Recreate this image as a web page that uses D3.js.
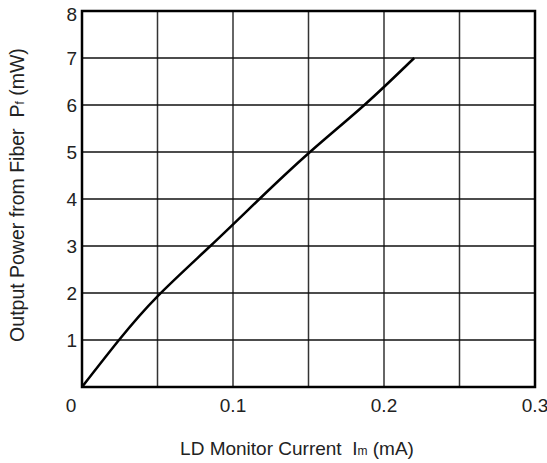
<!DOCTYPE html>
<html>
<head>
<meta charset="utf-8">
<script src="https://cdn.jsdelivr.net/npm/d3@7"></script>
<style>
  body { margin: 0; background: #fff; }
  text { font-family: "Liberation Sans", Arial, sans-serif; fill: #222; }
</style>
</head>
<body>
<svg class="svg"></svg>
<script>
// curve: LD monitor current (mA) vs output power (mW)
const currentMA = [0, 0.0245, 0.05, 0.085, 0.1175, 0.151, 0.187, 0.22];
const powerMW = [0, 1, 1.93, 3, 4, 5, 6, 7];

const xGrid = [0, 0.05, 0.1, 0.15, 0.2, 0.25, 0.3];
const xTickLabels = [0, 0.1, 0.2, 0.3];
const yTicks = [0, 1, 2, 3, 4, 5, 6, 7, 8];

const width = 547;
const height = 463;
const margin = { top: 11, right: 12, bottom: 76, left: 82 };

const svg = d3.select('.svg')
  .attr('width', width)
  .attr('height', height);

const x = d3.scaleLinear()
  .domain([0, 0.3])
  .range([margin.left, width - margin.right]);

const y = d3.scaleLinear()
  .domain([0, 8])
  .range([height - margin.bottom, margin.top]);

const g = svg.append('g');

// grid
g.append('g')
  .selectAll('line')
  .data(xGrid.slice(1, -1))
  .join('line')
  .attr('x1', d => x(d))
  .attr('x2', d => x(d))
  .attr('y1', y(0))
  .attr('y2', y(8))
  .attr('stroke', '#333')
  .attr('stroke-width', 1.5);

g.append('g')
  .selectAll('line')
  .data(yTicks.slice(1, -1))
  .join('line')
  .attr('x1', x(0))
  .attr('x2', x(0.3))
  .attr('y1', d => y(d))
  .attr('y2', d => y(d))
  .attr('stroke', '#111')
  .attr('stroke-width', 1.5);

// frame
g.append('rect')
  .attr('x', x(0))
  .attr('y', y(8))
  .attr('width', x(0.3) - x(0))
  .attr('height', y(0) - y(8))
  .attr('fill', 'none')
  .attr('stroke', '#000')
  .attr('stroke-width', 2.5);

// curve
const line = d3.line()
  .x((d, i) => x(currentMA[i]))
  .y(d => y(d))
  .curve(d3.curveNatural);

g.append('path')
  .attr('d', line(powerMW))
  .attr('fill', 'none')
  .attr('stroke', '#000')
  .attr('stroke-width', 2.5);

// y tick labels
g.append('g')
  .selectAll('text')
  .data(yTicks.slice(1))
  .join('text')
  .attr('x', x(0) - 5)
  .attr('y', d => d === 8 ? y(d) + 3 : y(d))
  .attr('dy', '0.35em')
  .attr('text-anchor', 'end')
  .attr('font-size', 19)
  .text(d => d);

// x tick labels
g.append('g')
  .selectAll('text')
  .data(xTickLabels)
  .join('text')
  .attr('x', d => d === 0 ? x(d) - 11 : x(d))
  .attr('y', 412)
  .attr('text-anchor', 'middle')
  .attr('font-size', 19)
  .text(d => d);

// axis titles
const xTitle = svg.append('text')
  .attr('x', 297)
  .attr('y', 455)
  .attr('text-anchor', 'middle')
  .attr('font-size', 19);
xTitle.append('tspan').text('LD Monitor Current\u00a0\u00a0I');
xTitle.append('tspan').attr('font-size', 12).text('m');
xTitle.append('tspan').text(' (mA)');

const yTitle = svg.append('text')
  .attr('transform', 'translate(24,195) rotate(-90)')
  .attr('text-anchor', 'middle')
  .attr('font-size', 19.5);
yTitle.append('tspan').text('Output Power from Fiber\u00a0\u00a0P');
yTitle.append('tspan').attr('font-size', 12).text('f');
yTitle.append('tspan').text(' (mW)');
</script>
</body>
</html>
